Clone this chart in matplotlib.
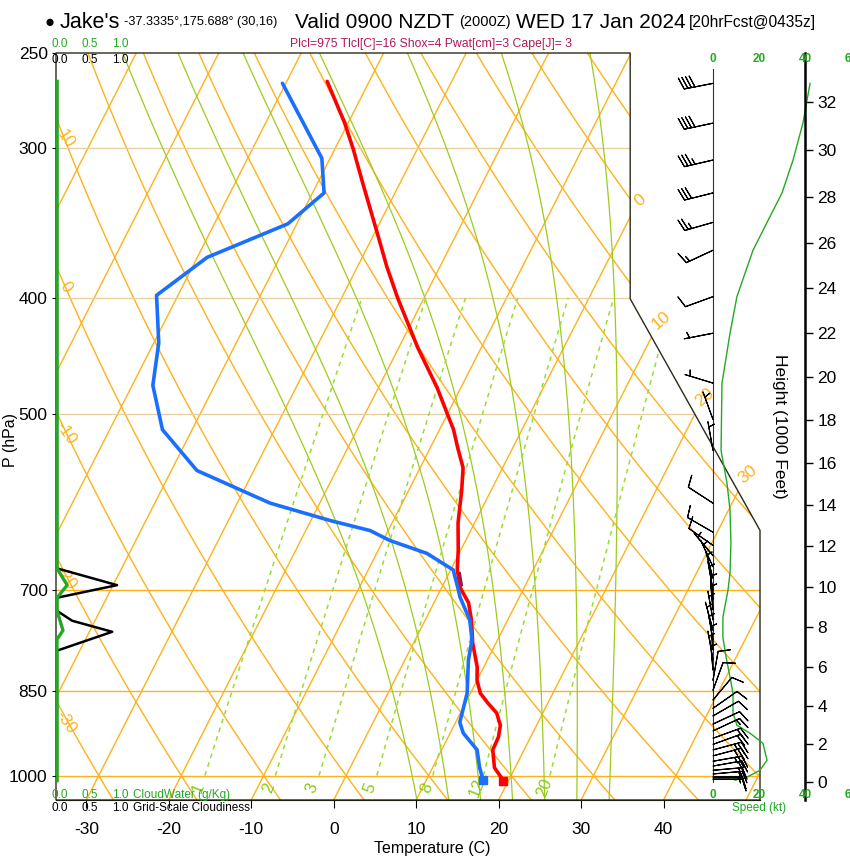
import numpy as np
import matplotlib
matplotlib.use("Agg")
import matplotlib.pyplot as plt
from matplotlib.patches import Polygon

plt.rcParams['font.family'] = ['Liberation Sans', 'DejaVu Sans']

# ---- sounding: temperature and dew point (hPa, C)
t_pres = [264, 286, 301, 321, 353, 377, 400, 425, 440, 475, 499, 515, 533, 554,
          578, 616, 649, 674, 698, 718, 742, 776, 812, 833, 854, 870, 887, 908,
          929, 952, 985, 1010]
t_temp = [-45.1, -40.4, -37.7, -34.5, -29.7, -26.4, -23.2, -19.7, -17.7, -12.9,
          -10.1, -8.3, -6.7, -4.8, -3.6, -2.0, -0.3, 0.8, 2.3, 4.2, 5.6, 7.2,
          9.2, 10.0, 11.2, 12.7, 14.4, 15.6, 16.1, 16.2, 17.5, 19.4]
td_pres = [265, 306, 327, 347, 370, 398, 436, 473, 515, 557, 593, 613, 625, 637,
           653, 674, 698, 710, 732, 742, 771, 801, 854, 903, 922, 952, 985, 1009]
td_temp = [-50.4, -41.0, -38.6, -41.1, -48.8, -52.6, -49.4, -47.5, -43.6, -36.9,
           -26.0, -17.7, -12.2, -9.2, -3.9, 0.3, 2.0, 2.8, 4.6, 5.4, 6.9, 7.7,
           9.6, 10.5, 11.6, 14.3, 15.7, 16.9]

# ---- cloud profiles (left strip)
cld_pres = [264, 660, 672, 694, 711, 729, 743, 759, 787, 1010]
cloudiness = [0, 0, 0, 1.0, 0, 0, 0.25, 0.92, 0, 0]
cw_pres = [264, 672, 694, 711, 729, 757, 770, 1010]
cloudwater = [0, 0, 0.17, 0, 0, 0.1, 0, 0]

# ---- wind speed profile (kt)
spd_pres = [265, 286, 307, 327, 346, 365, 399, 428, 471, 536, 571, 601, 640,
            678, 701, 738, 767, 797, 828, 854, 887, 908, 922, 940, 971, 990,
            1003, 1009]
spd_kt = [42.2, 39.1, 34.8, 30.0, 23.5, 17.4, 10.4, 7.4, 3.9, 3.5, 6.1, 7.4,
          7.8, 7.4, 6.5, 4.3, 4.3, 5.7, 7.4, 8.7, 8.7, 10.4, 16.1, 21.7, 23.5,
          20.4, 14.8, 9.6]

# ---- wind barbs (hPa, direction deg, speed kt)
barb_pres = [265, 286, 307, 327, 346, 365, 399, 428, 471, 505, 536, 593, 627,
             643, 656, 670, 685, 701, 714, 728, 742, 757, 771, 786, 801, 817,
             833, 849, 865, 879, 892, 906, 918, 931, 942, 952, 963, 973, 982,
             990, 997, 1003, 1007]
barb_dir = [259, 258, 257, 256, 254, 245, 250, 259, 287, 340, 350, 303, 300,
            305, 320, 335, 345, 350, 355, 355, 350, 345, 350, 355, 350, 355,
            10, 20, 40, 55, 60, 65, 65, 70, 70, 75, 75, 80, 80, 85, 85, 90, 90]
barb_spd = [42, 39, 35, 30, 24, 17, 10, 7, 4, 4, 4, 8, 8, 8, 7, 7, 7, 6, 5, 4,
            4, 4, 5, 5, 6, 7, 8, 9, 9, 9, 10, 12, 15, 19, 22, 23, 24, 23, 21,
            19, 16, 14, 11]

# ---- diagram furniture
isotherms = np.arange(-80, 60, 10)
dry_adiabats = np.arange(-30, 130, 10)
moist_adiabats = [8, 12, 16, 20, 24, 28, 32]
mix_ratios = [1, 2, 3, 5, 8, 12, 20]
p_ticks = [250, 300, 400, 500, 700, 850, 1000]
t_ticks = [-30, -20, -10, 0, 10, 20, 30, 40]
height_kft = list(range(0, 33, 2))

ORANGE = '#ffb11b'
LIME = '#9ccc1c'
LIME_D = '#99dd33'
LIME_T = '#88cc11'
GREEN = '#22aa22'
RED = '#ff0000'
BLUE = '#1a6fff'


def yp(p):
    return 132.182 - 44.061 * np.log10(np.asarray(p, float))


def xt(t, p):
    return 0.54 * np.asarray(t, float) + 0.90692 * yp(p)


def moist_temp(tw, pres):
    # pseudo-adiabat through tw (C) at 1000 hPa
    def rate(T, lp):
        p = np.exp(lp)
        es = 6.112 * np.exp(17.67 * (T - 273.15) / (T - 29.65))
        rs = 0.622 * es / (p - es)
        return (287.04 * T + 2.501e6 * rs) / (
            1005.7 + 2.501e6 ** 2 * rs * 0.622 / (287.04 * T * T))
    out = []
    for pt in pres:
        T, lp = tw + 273.15, np.log(1000.0)
        n = 60
        h = (np.log(pt) - lp) / n
        for _ in range(n):
            k1 = rate(T, lp)
            k2 = rate(T + h * k1 / 2, lp + h / 2)
            k3 = rate(T + h * k2 / 2, lp + h / 2)
            k4 = rate(T + h * k3, lp + h)
            T += h * (k1 + 2 * k2 + 2 * k3 + k4) / 6
            lp += h
        out.append(T - 273.15)
    return np.array(out)


def mix_temp(w, p):
    e = w * np.asarray(p, float) / (622.0 + w)
    a = np.log(e / 6.112)
    return 243.5 * a / (17.67 - a)


W, H = 850, 860


def rect(x0, y0, x1, y1):
    return [x0 / W, 1 - y1 / H, (x1 - x0) / W, (y1 - y0) / H]


fig = plt.figure(figsize=(8.5, 8.6), dpi=100)
ax = fig.add_axes(rect(56, 53, 760, 800))
ytop = yp(250)
ax.set_xlim(-19, 27.1)
ax.set_ylim(-0.9, ytop)
for s in ['top', 'right', 'left']:
    ax.spines[s].set_visible(False)

box = Polygon([(-19, -0.9), (27.1, -0.9), (27.1, 9.0), (18.6, 17.5),
               (18.6, ytop), (-19, ytop)], closed=True, fill=False,
              ec='#2a2a1a', lw=1.0, transform=ax.transData, zorder=5,
              clip_on=False)
ax.add_patch(box)

pp = np.logspace(np.log10(1050), np.log10(250), 120)

for t in isotherms:
    ln, = ax.plot(xt(t, pp), yp(pp), color=ORANGE, lw=1.0, zorder=1)
    ln.set_clip_path(box)
for th in dry_adiabats:
    tt = (th + 273.15) * (pp / 1000.0) ** 0.2857 - 273.15
    ln, = ax.plot(xt(tt, pp), yp(pp), color=ORANGE, lw=1.0, zorder=1)
    ln.set_clip_path(box)
pm = np.logspace(np.log10(1050), np.log10(250), 50)
for tw in moist_adiabats:
    ln, = ax.plot(xt(moist_temp(tw, pm), pm), yp(pm), color=LIME, lw=0.9,
                  zorder=2)
    ln.set_clip_path(box)
pw = np.logspace(np.log10(1000), np.log10(400), 30)
for w in mix_ratios:
    ln, = ax.plot(xt(mix_temp(w, pw), pw), yp(pw), color=LIME_D, lw=1.1,
                  ls=(0, (3, 3)), zorder=2)
    ln.set_clip_path(box)
    pl = 1024.0
    ax.text(xt(mix_temp(w, pl), pl) - 0.2, yp(pl), str(w), color=LIME_T,
            fontsize=12, rotation=68, ha='center', va='center', zorder=3)

for p in [1000, 850, 700]:
    ax.plot([-19, 27.1], [yp(p), yp(p)], color=ORANGE, lw=1.0, zorder=1)
for p in [500, 400, 300]:
    ln, = ax.plot([-19, 27.1], [yp(p), yp(p)], color='#e6cf9f', lw=0.9,
                  zorder=1)
    ln.set_clip_path(box)


def right_edge(y):
    return np.where(y <= 9.0, 27.1, np.where(y >= 17.5, 18.6, 27.1 - (y - 9.0)))


yy = np.linspace(-0.9, ytop, 2000)
for t in [0, 10, 20, 30]:
    d = right_edge(yy) - (0.54 * t + 0.90692 * yy)
    y0 = np.interp(0, d[::-1], yy[::-1])
    ax.annotate(str(t), (right_edge(y0), y0), xytext=(7, 12),
                textcoords='offset points', color=ORANGE, fontsize=12.5,
                rotation=40, ha='center', va='center', zorder=3)
pr = np.logspace(np.log10(1050), np.log10(250), 4000)
for th in [10, 0, -10, -20, -30]:
    xr = xt((th + 273.15) * (pr / 1000.0) ** 0.2857 - 273.15, pr)
    p0 = np.interp(-19, xr[::-1], pr[::-1])
    ax.annotate(str(th), (-19, yp(p0)), xytext=(7, -16),
                textcoords='offset points', color=ORANGE, fontsize=12,
                rotation=-55, ha='center', va='center', zorder=3)

# sounding
ax.plot(xt(t_temp, t_pres), yp(t_pres), color=RED, lw=2.6, zorder=6,
        solid_capstyle='round', solid_joinstyle='round')
ax.plot(xt(td_temp, td_pres), yp(td_pres), color=BLUE, lw=2.6, zorder=6,
        solid_capstyle='round', solid_joinstyle='round')
ax.plot(xt(t_temp[-1], t_pres[-1]), yp(t_pres[-1]), 's', color=RED, ms=5.5,
        zorder=7)
ax.plot(xt(td_temp[-1], td_pres[-1]), yp(td_pres[-1]), 's', color=BLUE,
        ms=5.5, zorder=7)
ax.plot(xt([1.3, 2.3], [678, 694]), yp([678, 694]), color='#8b1a5a', lw=1.6,
        zorder=7)

ax.set_yticks(yp(p_ticks))
ax.set_yticklabels([str(p) for p in p_ticks])
ax.set_xticks(xt(t_ticks, 1048.1))
ax.set_xticklabels([str(t) for t in t_ticks])
ax.tick_params(axis='x', length=6, width=0.8, pad=10, labelsize=12.5)
ax.tick_params(axis='y', length=3, width=0.8, pad=3, labelsize=12.5)
fig.text(432 / W, 1 - 849 / H, 'Temperature (C)', fontsize=11.5,
         ha='center', va='center')
fig.text(10 / W, 1 - 440 / H, 'P (hPa)', fontsize=11.5, rotation=90,
         ha='center', va='center')

# cloud strip
axc = fig.add_axes(rect(56, 53, 760, 800))
axc.set_xlim(-1 / 60, 703 / 60)
axc.set_ylim(-0.9, ytop)
axc.axis('off')
axc.plot(cloudiness, yp(cld_pres), color='k', lw=1.8, zorder=3)
axc.plot(cloudwater, yp(cw_pres), color=GREEN, lw=2.4, zorder=4)
for v in [0.0, 0.5, 1.0]:
    axc.text(v + 0.05, 26.85, f'{v:.1f}', color=GREEN, fontsize=8.5,
             ha='center', va='center', clip_on=False)
    axc.text(v + 0.05, 26.27, f'{v:.1f}', color='k', fontsize=8.5,
             ha='center', va='center', clip_on=False)
    axc.text(v + 0.05, -0.72, f'{v:.1f}', color=GREEN, fontsize=8.5,
             ha='center', va='center', clip_on=False)
    axc.text(v + 0.05, -1.2, f'{v:.1f}', color='k', fontsize=8.5,
             ha='center', va='center', clip_on=False)
axc.text(1.27, -0.72, 'CloudWater (g/Kg)', color=GREEN, fontsize=8.5,
         ha='left', va='center', clip_on=False)
axc.text(1.27, -1.2, 'Grid-Scale Cloudiness', color='k', fontsize=8.5,
         ha='left', va='center', clip_on=False)

# wind strip
axw = fig.add_axes(rect(630, 53, 850, 800))
axw.set_xlim((630 - 713) / 2.3, (850 - 713) / 2.3)
axw.set_ylim(-0.9, ytop)
axw.patch.set_visible(False)
for s in ['top', 'left', 'bottom']:
    axw.spines[s].set_visible(False)
axw.spines['right'].set_position(('data', 40))
axw.spines['right'].set_linewidth(1.8)
axw.set_xticks([])
z_m = np.array(height_kft) * 304.8
h_pres = 1013.25 * (1 - 2.25577e-5 * z_m) ** 5.25588
axw.yaxis.tick_right()
axw.set_yticks(yp(h_pres))
axw.set_yticklabels([str(h) for h in height_kft])
axw.tick_params(axis='y', length=6, width=1, labelsize=12.5, pad=3)
axw.text(0.68, 0.5, 'Height (1000 Feet)', rotation=270, fontsize=12.5,
         ha='center', va='center', transform=axw.transAxes)
axw.plot([0, 0], [yp(258), yp(1012)], color='#333333', lw=0.8)
axw.plot(spd_kt, yp(spd_pres), color=GREEN, lw=1.0)
d = np.radians(barb_dir)
u = -np.array(barb_spd) * np.sin(d)
v = -np.array(barb_spd) * np.cos(d)
axw.barbs(np.zeros(len(barb_pres)), yp(barb_pres), u, v, length=6.5,
          lw=0.8, color='k', zorder=5)
for s in [0, 20, 40, 60]:
    axw.text(s, 26.3, str(s), color=GREEN, fontsize=8.5, ha='center',
             va='center', fontweight='bold', clip_on=False)
    axw.text(s, -0.72, str(s), color=GREEN, fontsize=8.5, ha='center',
             va='center', fontweight='bold', clip_on=False)
axw.text(20, -1.2, 'Speed (kt)', color=GREEN, fontsize=8.5, ha='center',
         va='center', clip_on=False)

# header
yh = 1 - 22 / H
fig.text(50 / W, yh, '\u25cf', fontsize=12, ha='center', va='center')
fig.text(60 / W, yh, "Jake's", fontsize=15.5, ha='left', va='center')
fig.text(124 / W, yh, '-37.3335\u00b0,175.688\u00b0 (30,16)',
         fontsize=9.2, ha='left', va='center')
fig.text(295 / W, yh, 'Valid 0900 NZDT', fontsize=15.0, ha='left',
         va='center')
fig.text(459 / W, yh, '(2000Z)', fontsize=10.5, ha='left', va='center')
fig.text(516 / W, yh, 'WED 17 Jan 2024', fontsize=15.0, ha='left',
         va='center')
fig.text(689 / W, yh, '[20hrFcst@0435z]', fontsize=11.2, ha='left',
         va='center')
fig.text(431 / W, 1 - 44 / H,
         'Plcl=975 Tlcl[C]=16 Shox=4 Pwat[cm]=3 Cape[J]= 3',
         color='#b0185a', fontsize=8.8, ha='center', va='center')

fig.savefig('out.png', dpi=100)
